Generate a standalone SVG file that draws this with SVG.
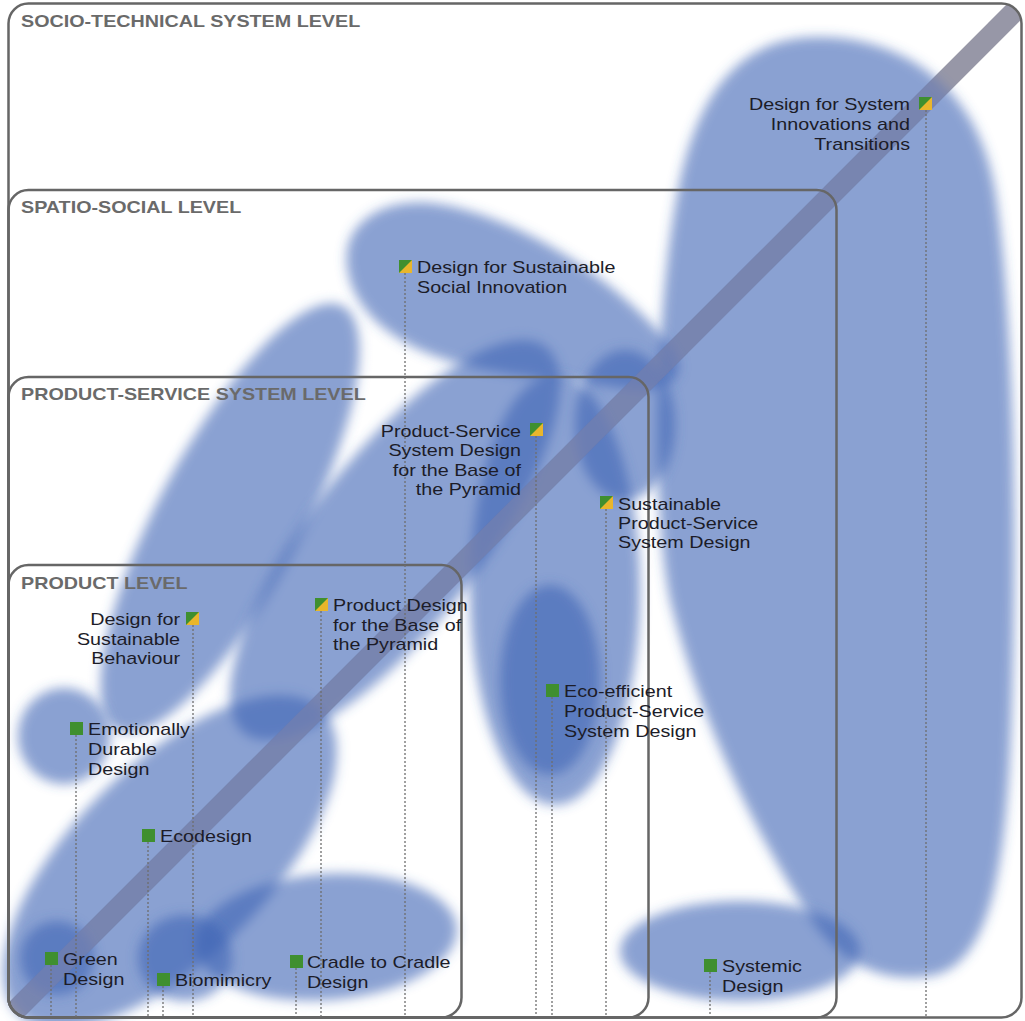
<svg xmlns="http://www.w3.org/2000/svg" xmlns:xlink="http://www.w3.org/1999/xlink" width="1025" height="1021" viewBox="0 0 1025 1021">
<style>
.box{fill:none;stroke:#666;stroke-width:2.5}
.title{font-family:"Liberation Sans",Arial,sans-serif;font-weight:bold;font-size:17px;fill:#6a6a6a}
.lbl{font-family:"Liberation Sans",Arial,sans-serif;font-size:17px;fill:#1c1c28}
.r{text-anchor:end}
.blob{fill:#3c64b4;fill-opacity:0.6;filter:url(#soft)}
.dot{stroke:#6e6e6e;stroke-width:1.3;stroke-dasharray:2 2;fill:none}
.g{fill:#3f8f2f}
.y{fill:#e9b62c}
</style>
<defs>
<filter id="soft" x="-20%" y="-20%" width="140%" height="140%"><feGaussianBlur stdDeviation="6"/></filter>
<clipPath id="outer"><rect x="8.5" y="3.5" width="1013" height="1014" rx="20"/></clipPath>
<g id="ms"><rect width="13" height="13" class="y"/><polygon points="0,0 13,0 0,13" class="g"/></g>
<rect id="mg" width="13" height="13" class="g"/>
</defs>
<rect width="1025" height="1021" fill="#fff"/>
<g id="bar" clip-path="url(#outer)">
<line x1="0" y1="1026" x2="1026" y2="0" stroke="#9a9a9a" stroke-width="21"/>
</g>
<g id="blobs">
<path class="blob" d="M800,38 C880,30 975,70 995,190 C1012,300 1018,500 1012,700 C1008,850 995,960 935,975 C885,985 845,965 815,925 C755,835 700,720 670,600 C650,500 655,300 680,180 C700,90 740,45 800,38 Z"/>
<path class="blob" d="M348,272 C338,222 385,196 438,204 C520,216 625,285 672,348 C692,378 665,396 622,388 C565,378 485,378 425,352 C382,334 354,305 348,272 Z"/>
<ellipse class="blob" cx="625" cy="425" rx="50" ry="75"/>
<ellipse class="blob" cx="555" cy="590" rx="85" ry="215"/>
<ellipse class="blob" cx="550" cy="680" rx="50" ry="95"/>
<ellipse class="blob" cx="230" cy="518" rx="240" ry="72" transform="rotate(-62 230 518)"/>
<ellipse class="blob" cx="395" cy="540" rx="245" ry="85" transform="rotate(-52 395 540)"/>
<ellipse class="blob" cx="170" cy="862" rx="215" ry="97" transform="rotate(-45 170 862)"/>
<ellipse class="blob" cx="326" cy="937" rx="131" ry="63" transform="rotate(-4 326 937)"/>
<ellipse class="blob" cx="185" cy="958" rx="47" ry="43"/>
<circle class="blob" cx="57" cy="958" r="37"/>
<ellipse class="blob" cx="64" cy="736" rx="46" ry="48"/>
<ellipse class="blob" cx="740" cy="951" rx="120" ry="50"/>
</g>
<g id="bar-tint" clip-path="url(#outer)">
<line x1="0" y1="1026" x2="1026" y2="0" stroke="#9494b8" stroke-opacity="0.45" stroke-width="21"/>
</g>
<g id="levels">
<rect class="box" x="8.5" y="3.5" width="1013" height="1014" rx="20"/>
<rect class="box" x="8.5" y="190" width="828" height="827.5" rx="20"/>
<rect class="box" x="8.5" y="377" width="640" height="640.5" rx="20"/>
<rect class="box" x="8.5" y="565" width="453" height="452.5" rx="20"/>
<g transform="translate(21,0) scale(1.16,1)"><text class="title" x="0" y="27">SOCIO-TECHNICAL SYSTEM LEVEL</text></g>
<g transform="translate(21,0) scale(1.16,1)"><text class="title" x="0" y="213">SPATIO-SOCIAL LEVEL</text></g>
<g transform="translate(21,0) scale(1.16,1)"><text class="title" x="0" y="400">PRODUCT-SERVICE SYSTEM LEVEL</text></g>
<g transform="translate(21,0) scale(1.16,1)"><text class="title" x="0" y="589">PRODUCT LEVEL</text></g>
</g>
<g id="connectors">
<line class="dot" x1="926" y1="110" x2="926" y2="1017"/>
<line class="dot" x1="405" y1="273" x2="405" y2="1017"/>
<line class="dot" x1="536" y1="436" x2="536" y2="1017"/>
<line class="dot" x1="606" y1="509" x2="606" y2="1017"/>
<line class="dot" x1="552" y1="697" x2="552" y2="1017"/>
<line class="dot" x1="193" y1="625" x2="193" y2="1017"/>
<line class="dot" x1="321" y1="611" x2="321" y2="1017"/>
<line class="dot" x1="76" y1="735" x2="76" y2="1017"/>
<line class="dot" x1="148" y1="842" x2="148" y2="1017"/>
<line class="dot" x1="51" y1="965" x2="51" y2="1017"/>
<line class="dot" x1="163" y1="986" x2="163" y2="1017"/>
<line class="dot" x1="296" y1="968" x2="296" y2="1017"/>
<line class="dot" x1="710" y1="972" x2="710" y2="1017"/>
</g>
<g id="n-system-innovations">
<use xlink:href="#ms" x="919" y="97"/>
<g transform="translate(910,0) scale(1.16,1)"><text class="lbl r"><tspan x="0" y="110">Design for System</tspan><tspan x="0" y="130">Innovations and</tspan><tspan x="0" y="150">Transitions</tspan></text></g>
</g>
<g id="n-social-innovation">
<use xlink:href="#ms" x="399" y="260"/>
<g transform="translate(417,0) scale(1.16,1)"><text class="lbl"><tspan x="0" y="273">Design for Sustainable</tspan><tspan x="0" y="293">Social Innovation</tspan></text></g>
</g>
<g id="n-pss-bop">
<use xlink:href="#ms" x="530" y="423"/>
<g transform="translate(521,0) scale(1.16,1)"><text class="lbl r"><tspan x="0" y="437">Product-Service</tspan><tspan x="0" y="456">System Design</tspan><tspan x="0" y="476">for the Base of</tspan><tspan x="0" y="495">the Pyramid</tspan></text></g>
</g>
<g id="n-sustainable-pss">
<use xlink:href="#ms" x="600" y="496"/>
<g transform="translate(618,0) scale(1.16,1)"><text class="lbl"><tspan x="0" y="510">Sustainable</tspan><tspan x="0" y="529">Product-Service</tspan><tspan x="0" y="548">System Design</tspan></text></g>
</g>
<g id="n-eco-efficient-pss">
<use xlink:href="#mg" x="546" y="684"/>
<g transform="translate(564,0) scale(1.16,1)"><text class="lbl"><tspan x="0" y="697">Eco-efficient</tspan><tspan x="0" y="717">Product-Service</tspan><tspan x="0" y="737">System Design</tspan></text></g>
</g>
<g id="n-sustainable-behaviour">
<use xlink:href="#ms" x="186" y="612"/>
<g transform="translate(180,0) scale(1.16,1)"><text class="lbl r"><tspan x="0" y="625">Design for</tspan><tspan x="0" y="645">Sustainable</tspan><tspan x="0" y="664">Behaviour</tspan></text></g>
</g>
<g id="n-product-bop">
<use xlink:href="#ms" x="315" y="598"/>
<g transform="translate(333,0) scale(1.16,1)"><text class="lbl"><tspan x="0" y="611">Product Design</tspan><tspan x="0" y="631">for the Base of</tspan><tspan x="0" y="650">the Pyramid</tspan></text></g>
</g>
<g id="n-emotionally-durable">
<use xlink:href="#mg" x="70" y="722"/>
<g transform="translate(88,0) scale(1.16,1)"><text class="lbl"><tspan x="0" y="735">Emotionally</tspan><tspan x="0" y="755">Durable</tspan><tspan x="0" y="775">Design</tspan></text></g>
</g>
<g id="n-ecodesign">
<use xlink:href="#mg" x="142" y="829"/>
<g transform="translate(160,0) scale(1.16,1)"><text class="lbl" x="0" y="842">Ecodesign</text></g>
</g>
<g id="n-green-design">
<use xlink:href="#mg" x="45" y="952"/>
<g transform="translate(63,0) scale(1.16,1)"><text class="lbl"><tspan x="0" y="965">Green</tspan><tspan x="0" y="985">Design</tspan></text></g>
</g>
<g id="n-biomimicry">
<use xlink:href="#mg" x="157" y="973"/>
<g transform="translate(175,0) scale(1.16,1)"><text class="lbl" x="0" y="986">Biomimicry</text></g>
</g>
<g id="n-cradle">
<use xlink:href="#mg" x="290" y="955"/>
<g transform="translate(307,0) scale(1.16,1)"><text class="lbl"><tspan x="0" y="968">Cradle to Cradle</tspan><tspan x="0" y="988">Design</tspan></text></g>
</g>
<g id="n-systemic">
<use xlink:href="#mg" x="704" y="959"/>
<g transform="translate(722,0) scale(1.16,1)"><text class="lbl"><tspan x="0" y="972">Systemic</tspan><tspan x="0" y="992">Design</tspan></text></g>
</g>
</svg>
